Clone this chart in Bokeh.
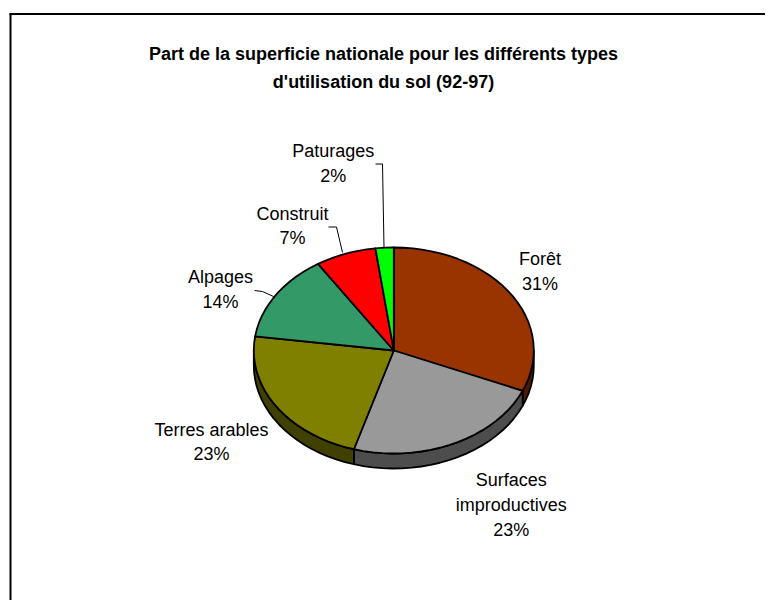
import numpy as np
from bokeh.core.properties import value
from bokeh.embed import file_html
from bokeh.models import ColumnDataSource, Range1d
from bokeh.plotting import figure
from bokeh.resources import INLINE

# Data
categories = ["Forêt", "Surfaces improductives", "Terres arables", "Alpages", "Construit", "Paturages"]
shares = [31.4, 23.2, 22.6, 13.7, 7.0, 2.1]
percent_labels = ["31%", "23%", "23%", "14%", "7%", "2%"]
top_colors = ["#993300", "#999999", "#808000", "#339966", "#ff0000", "#00ff00"]
side_colors = ["#4d1a00", "#4d4d4d", "#404000", "#1a4d33", "#800000", "#008000"]
title_lines = ["Part de la superficie nationale pour les différents types", "d'utilisation du sol (92-97)"]

# Layout, in picture pixels
W, H = 765, 600
CX, CY, RX, RY, DEPTH = 393.3, 350.0, 140.0, 103.0, 15.0
FONT = "Liberation Sans"
LABEL_PX = "18px"

p = figure(width=W, height=H, output_backend="svg", toolbar_location=None,
           x_range=Range1d(0, W), y_range=Range1d(H, 0),
           x_axis_type=None, y_axis_type=None, min_border=0, outline_line_color=None)
p.grid.visible = False

# Chart frame: only top and left edges show
p.segment([9], [13.5], [W], [13.5], line_color="#000000", line_width=2)
p.segment([10], [13], [10], [H], line_color="#000000", line_width=2)


def rim(a0, a1, dy=0.0):
    n = max(2, int(abs(a1 - a0) / np.radians(4)) + 2)
    a = np.linspace(a0, a1, n)
    return CX + RX * np.sin(a), CY - RY * np.cos(a) + dy


edges = np.concatenate([[0], np.cumsum(shares)]) / np.sum(shares) * 2 * np.pi

# Sides (only the visible, front half of the rim)
for i, col in enumerate(side_colors):
    a0, a1 = max(edges[i], np.pi / 2), min(edges[i + 1], 3 * np.pi / 2)
    if a1 <= a0:
        continue
    x0, y0 = rim(a0, a1)
    x1, y1 = rim(a1, a0, DEPTH)
    p.patch(np.r_[x0, x1], np.r_[y0, y1], fill_color=col, line_color="#000000",
            line_width=1.8, line_join="round")

# Top faces
for i, col in enumerate(top_colors):
    x, y = rim(edges[i], edges[i + 1])
    p.patch(np.r_[CX, x], np.r_[CY, y], fill_color=col, line_color="#000000",
            line_width=1.8, line_join="round")

# Leader lines
leader_x = [[375, 382, 383.5], [328, 336, 342], [254, 262, 273]]
leader_y = [[163.5, 163.5, 247], [226.5, 226.5, 252], [290, 291, 296]]
p.multi_line(leader_x, leader_y, line_color="#000000", line_width=1)

# Labels: one line of text per row
label_rows = [["Forêt", "31%"], ["Surfaces", "improductives", "23%"], ["Terres arables", "23%"],
              ["Alpages", "14%"], ["Construit", "7%"], ["Paturages", "2%"]]
label_x = [539.5, 510.7, 211, 220, 292, 332.7]
label_y = [[258, 283], [479, 504, 529], [429, 453], [276, 301], [213, 237], [150, 175]]
tx, ty, tt = [], [], []
for row, lx, ly, pct in zip(label_rows, label_x, label_y, percent_labels):
    for k, (s, yy) in enumerate(zip(row, ly)):
        tx.append(lx)
        ty.append(yy)
        tt.append(pct if k == len(row) - 1 else s)
p.text(x="x", y="y", text="t", source=ColumnDataSource(dict(x=tx, y=ty, t=tt)),
       text_font=value(FONT), text_font_size=value(LABEL_PX), text_color="#000000",
       text_align="center", text_baseline="middle")

p.text(x=[383, 383], y=[53, 81], text=title_lines, text_font=value(FONT),
       text_font_size=value("18px"), text_font_style="bold", text_color="#000000",
       text_align="center", text_baseline="middle")

open("out.html", "w").write(file_html(p, INLINE))
